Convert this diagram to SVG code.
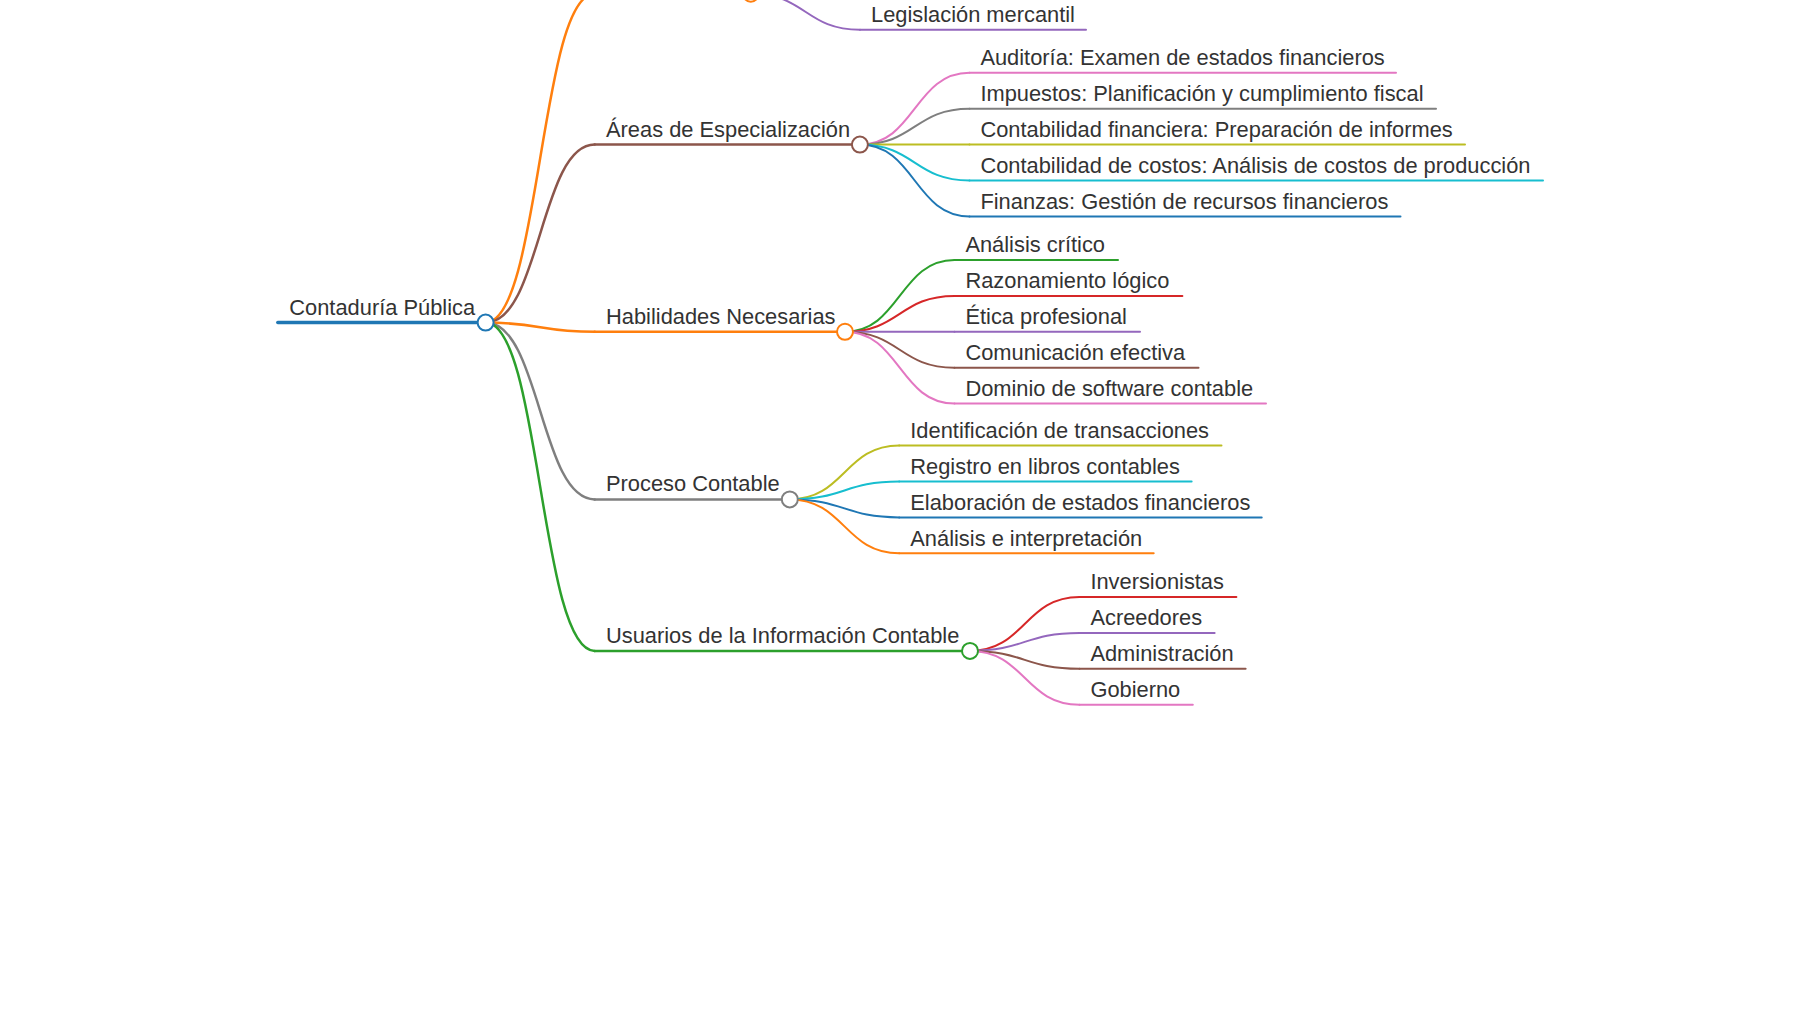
<svg xmlns="http://www.w3.org/2000/svg" width="1800" height="1012" viewBox="0 0 1800 1012">
<style>
text{font-family:"Liberation Sans",Arial,sans-serif;font-size:21.85px;fill:#333}
path,line{fill:none;stroke-linecap:round}
.l0{stroke-width:3.5}
.l1{stroke-width:2.5}
.l2{stroke-width:2}
circle{fill:#fff;stroke-width:2}
</style>
<rect width="1800" height="1012" fill="#fff"/>
<g id="connectors">
<path class="l1" stroke="#ff7f0e" d="M485.6,322.6 C540.2,322.6 540.2,-6.3 594.7,-6.3"/>
<path class="l1" stroke="#8c564b" d="M485.6,322.6 C540.2,322.6 540.2,144.6 594.7,144.6"/>
<path class="l1" stroke="#ff7f0e" d="M485.6,322.6 C540.2,322.6 540.2,331.8 594.7,331.8"/>
<path class="l1" stroke="#7f7f7f" d="M485.6,322.6 C540.2,322.6 540.2,499.4 594.7,499.4"/>
<path class="l1" stroke="#2ca02c" d="M485.6,322.6 C540.2,322.6 540.2,650.9 594.7,650.9"/>
<path class="l2" stroke="#9467bd" d="M750.8,-6.3 C805.4,-6.3 805.4,29.8 860,29.8"/>
<path class="l2" stroke="#e377c2" d="M859.9,144.6 C914.7,144.6 914.7,72.8 969.5,72.8"/>
<path class="l2" stroke="#7f7f7f" d="M859.9,144.6 C914.7,144.6 914.7,108.7 969.5,108.7"/>
<path class="l2" stroke="#bcbd22" d="M859.9,144.6 C914.7,144.6 914.7,144.6 969.5,144.6"/>
<path class="l2" stroke="#17becf" d="M859.9,144.6 C914.7,144.6 914.7,180.5 969.5,180.5"/>
<path class="l2" stroke="#1f77b4" d="M859.9,144.6 C914.7,144.6 914.7,216.4 969.5,216.4"/>
<path class="l2" stroke="#2ca02c" d="M845,331.8 C899.7,331.8 899.7,260 954.5,260"/>
<path class="l2" stroke="#d62728" d="M845,331.8 C899.7,331.8 899.7,295.9 954.5,295.9"/>
<path class="l2" stroke="#9467bd" d="M845,331.8 C899.7,331.8 899.7,331.8 954.5,331.8"/>
<path class="l2" stroke="#8c564b" d="M845,331.8 C899.7,331.8 899.7,367.7 954.5,367.7"/>
<path class="l2" stroke="#e377c2" d="M845,331.8 C899.7,331.8 899.7,403.6 954.5,403.6"/>
<path class="l2" stroke="#bcbd22" d="M789.8,499.4 C844.5,499.4 844.5,445.5 899.2,445.5"/>
<path class="l2" stroke="#17becf" d="M789.8,499.4 C844.5,499.4 844.5,481.5 899.2,481.5"/>
<path class="l2" stroke="#1f77b4" d="M789.8,499.4 C844.5,499.4 844.5,517.4 899.2,517.4"/>
<path class="l2" stroke="#ff7f0e" d="M789.8,499.4 C844.5,499.4 844.5,553.3 899.2,553.3"/>
<path class="l2" stroke="#d62728" d="M970,650.9 C1024.7,650.9 1024.7,597 1079.5,597"/>
<path class="l2" stroke="#9467bd" d="M970,650.9 C1024.7,650.9 1024.7,632.9 1079.5,632.9"/>
<path class="l2" stroke="#8c564b" d="M970,650.9 C1024.7,650.9 1024.7,668.8 1079.5,668.8"/>
<path class="l2" stroke="#e377c2" d="M970,650.9 C1024.7,650.9 1024.7,704.8 1079.5,704.8"/>
</g>
<g id="root">
<line class="l0" stroke="#1f77b4" x1="277.8" y1="322.6" x2="485.6" y2="322.6"/>
<circle cx="485.6" cy="322.6" r="8" stroke="#1f77b4"/>
<text x="289.3" y="315">Contaduría Pública</text>
</g>
<g id="n-top">
<line class="l1" stroke="#ff7f0e" x1="594.7" y1="-6.3" x2="750.8" y2="-6.3"/>
<circle cx="750.8" cy="-6.3" r="8" stroke="#ff7f0e"/>
</g>
<g id="n-legislacion"><line class="l2" stroke="#9467bd" x1="860" y1="29.8" x2="1086" y2="29.8"/><text x="871" y="22">Legislación mercantil</text></g>
<g id="n-areas">
<line class="l1" stroke="#8c564b" x1="594.7" y1="144.6" x2="859.9" y2="144.6"/>
<circle cx="859.9" cy="144.6" r="8" stroke="#8c564b"/>
<text x="606" y="136.6">Áreas de Especialización</text>
</g>
<g id="n-auditoria"><line class="l2" stroke="#e377c2" x1="969.5" y1="72.8" x2="1396" y2="72.8"/><text x="980.4" y="65">Auditoría: Examen de estados financieros</text></g>
<g id="n-impuestos"><line class="l2" stroke="#7f7f7f" x1="969.5" y1="108.7" x2="1436" y2="108.7"/><text x="980.4" y="100.9">Impuestos: Planificación y cumplimiento fiscal</text></g>
<g id="n-contfin"><line class="l2" stroke="#bcbd22" x1="969.5" y1="144.6" x2="1465" y2="144.6"/><text x="980.4" y="136.8">Contabilidad financiera: Preparación de informes</text></g>
<g id="n-contcost"><line class="l2" stroke="#17becf" x1="969.5" y1="180.5" x2="1543" y2="180.5"/><text x="980.4" y="172.7">Contabilidad de costos: Análisis de costos de producción</text></g>
<g id="n-finanzas"><line class="l2" stroke="#1f77b4" x1="969.5" y1="216.4" x2="1400.5" y2="216.4"/><text x="980.4" y="208.6">Finanzas: Gestión de recursos financieros</text></g>
<g id="n-habilidades">
<line class="l1" stroke="#ff7f0e" x1="594.7" y1="331.8" x2="845" y2="331.8"/>
<circle cx="845" cy="331.8" r="8" stroke="#ff7f0e"/>
<text x="606" y="323.8">Habilidades Necesarias</text>
</g>
<g id="n-analisis"><line class="l2" stroke="#2ca02c" x1="954.5" y1="260" x2="1118" y2="260"/><text x="965.4" y="252.2">Análisis crítico</text></g>
<g id="n-razon"><line class="l2" stroke="#d62728" x1="954.5" y1="295.9" x2="1182.4" y2="295.9"/><text x="965.4" y="288.1">Razonamiento lógico</text></g>
<g id="n-etica"><line class="l2" stroke="#9467bd" x1="954.5" y1="331.8" x2="1140" y2="331.8"/><text x="965.4" y="324">Ética profesional</text></g>
<g id="n-comunicacion"><line class="l2" stroke="#8c564b" x1="954.5" y1="367.7" x2="1198.5" y2="367.7"/><text x="965.4" y="359.9">Comunicación efectiva</text></g>
<g id="n-software"><line class="l2" stroke="#e377c2" x1="954.5" y1="403.6" x2="1266" y2="403.6"/><text x="965.4" y="395.8">Dominio de software contable</text></g>
<g id="n-proceso">
<line class="l1" stroke="#7f7f7f" x1="594.7" y1="499.4" x2="789.8" y2="499.4"/>
<circle cx="789.8" cy="499.4" r="8" stroke="#7f7f7f"/>
<text x="606" y="491.4">Proceso Contable</text>
</g>
<g id="n-ident"><line class="l2" stroke="#bcbd22" x1="899.2" y1="445.5" x2="1221.5" y2="445.5"/><text x="910.3" y="437.7">Identificación de transacciones</text></g>
<g id="n-registro"><line class="l2" stroke="#17becf" x1="899.2" y1="481.5" x2="1191.6" y2="481.5"/><text x="910.3" y="473.7">Registro en libros contables</text></g>
<g id="n-elaboracion"><line class="l2" stroke="#1f77b4" x1="899.2" y1="517.4" x2="1261.7" y2="517.4"/><text x="910.3" y="509.6">Elaboración de estados financieros</text></g>
<g id="n-interp"><line class="l2" stroke="#ff7f0e" x1="899.2" y1="553.3" x2="1153.7" y2="553.3"/><text x="910.3" y="545.5">Análisis e interpretación</text></g>
<g id="n-usuarios">
<line class="l1" stroke="#2ca02c" x1="594.7" y1="650.9" x2="970" y2="650.9"/>
<circle cx="970" cy="650.9" r="8" stroke="#2ca02c"/>
<text x="606" y="642.9">Usuarios de la Información Contable</text>
</g>
<g id="n-inversionistas"><line class="l2" stroke="#d62728" x1="1079.5" y1="597" x2="1236.4" y2="597"/><text x="1090.4" y="589.2">Inversionistas</text></g>
<g id="n-acreedores"><line class="l2" stroke="#9467bd" x1="1079.5" y1="632.9" x2="1214.6" y2="632.9"/><text x="1090.4" y="625.1">Acreedores</text></g>
<g id="n-administracion"><line class="l2" stroke="#8c564b" x1="1079.5" y1="668.8" x2="1245.6" y2="668.8"/><text x="1090.4" y="661">Administración</text></g>
<g id="n-gobierno"><line class="l2" stroke="#e377c2" x1="1079.5" y1="704.8" x2="1192.8" y2="704.8"/><text x="1090.4" y="697">Gobierno</text></g>
</svg>
